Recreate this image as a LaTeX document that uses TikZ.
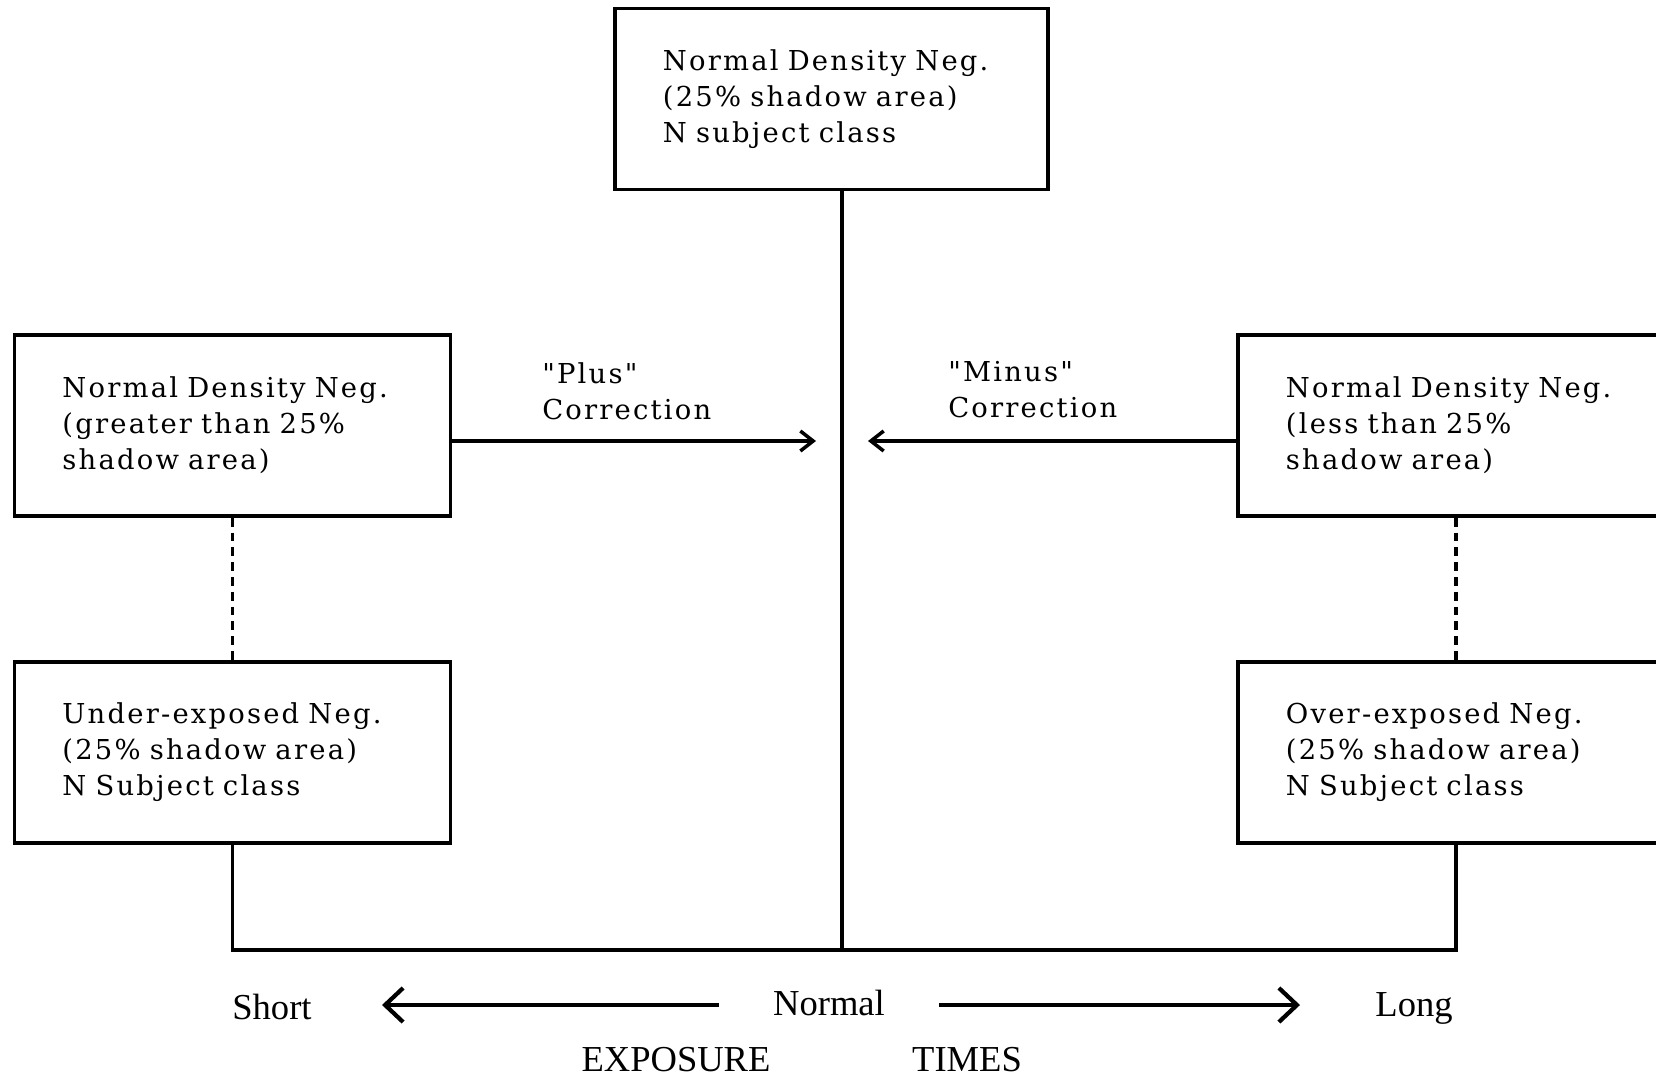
\documentclass[tikz,border=0pt]{standalone}
\usepackage{fontspec}
\setmainfont{DejaVu Serif}[LetterSpace=8, WordSpace=1.4, Ligatures=TeXOff]
\newfontfamily\bottomfont{Liberation Serif}
\usetikzlibrary{arrows.meta}

\tikzset{
  negbox/.style={draw, line width=2.5pt, inner xsep=1.2cm, inner ysep=0pt,
    minimum height=4.525cm, text width=8.5cm, align=left,
    font=\fontsize{19.5}{25.6}\selectfont},
  corrtext/.style={anchor=west, align=left, inner sep=0pt,
    font=\fontsize{19.5}{25.6}\selectfont},
  corrarrow/.style={line width=2.5pt, -{Straight Barb[length=0.32cm,width=0.5cm,line width=2.5pt]}},
  expotext/.style={inner sep=0pt, font=\bottomfont\fontsize{26}{30}\selectfont},
  expoarrow/.style={line width=2.5pt, -{Straight Barb[length=0.45cm,width=0.85cm,line width=3pt]}}
}

\begin{document}
\begin{tikzpicture}[x=0.025cm, y=-0.025cm]
    \useasboundingbox (0,0) rectangle (1656,1077);
    % Normal
    \node[negbox, text width=8.425cm] (top) at (831.5,99)
        {Normal Density Neg.\\(25\% shadow area)\\N subject class};
    % kurz
    \node[negbox] (ltop) at (232.5,425.5)
        {Normal Density Neg.\\(greater than 25\%\\shadow area)};
    \node[negbox] (lbot) at (232.5,752.5)
        {Under-exposed Neg.\\(25\% shadow area)\\N Subject class};
    % lang
    \node[negbox] (rtop) at (1456,425.5)
        {Normal Density Neg.\\(less than 25\%\\shadow area)};
    \node[negbox] (rbot) at (1456,752.5)
        {Over-exposed Neg.\\(25\% shadow area)\\N Subject class};
    % Verbindungen
    \coordinate (base) at (842,950);
    \draw[line width=2.5pt] (top.south -| base) -- (base);
    \draw[line width=2.5pt] (lbot.south) |- (base) -| (rbot.south);
    \draw[line width=2.5pt, dash pattern=on 0.22cm off 0.15cm] (ltop.south) -- (lbot.north);
    \draw[line width=2.5pt, dash pattern=on 0.22cm off 0.15cm] (rtop.south) -- (rbot.north);
    % Korrektur
    \coordinate (plustip) at (816,441);
    \coordinate (minustip) at (868,441);
    \draw[corrarrow] (ltop.east |- plustip) -- (plustip);
    \draw[corrarrow] (rtop.west |- minustip) -- (minustip);
    \node[corrtext] (plus) at (542,391) {"Plus"\\Correction};
    \node[corrtext] (minus) at (948,390) {"Minus"\\Correction};
    % Belichtungszeit
    \node[expotext] (short) at (272,1007) {Short};
    \node[expotext, inner xsep=1.35cm] (normal) at (829,1003) {Normal};
    \node[expotext] (long) at (1414,1008) {Long};
    \coordinate (shorttip) at (382,1005);
    \coordinate (longtip) at (1300,1005);
    \draw[expoarrow] (normal.west |- shorttip) -- (shorttip);
    \draw[expoarrow] (normal.east |- longtip) -- (longtip);
    \node[expotext] (exposure) at (676,1060) {EXPOSURE};
    \node[expotext] (times) at (967,1060) {TIMES};
\end{tikzpicture}
\end{document}
